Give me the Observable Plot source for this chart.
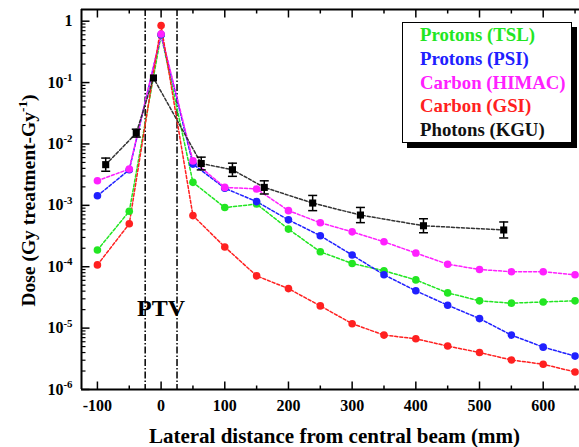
<!DOCTYPE html>
<html><head><meta charset="utf-8">
<script src="https://cdn.jsdelivr.net/npm/d3@7"></script>
<script src="https://cdn.jsdelivr.net/npm/@observablehq/plot@0.6"></script>
<style>
body{margin:0;background:#fff;}
#wrap{position:relative;width:579px;height:447px;overflow:hidden;font-family:"Liberation Serif","Times New Roman",serif;}
#legend{position:absolute;left:402px;top:22px;width:168px;height:119px;border:1.5px solid #000;box-shadow:5px 5px 0 #000;background:#fff;}
#legend div{position:absolute;left:17px;font-family:"Liberation Serif","Times New Roman",serif;font-weight:bold;font-size:18.8px;line-height:18px;white-space:nowrap;}
</style></head><body><div id="wrap"><div id="legend"></div></div>
<script>
// ---- data ----
const xPos = [-100,-50,0,50,100,150,200,250,300,350,400,450,500,550,600,650];
const protonsTSL  = [1.87e-4,8.0e-4,0.60,2.37e-3,9.2e-4,1.05e-3,4.1e-4,1.75e-4,1.13e-4,8.6e-5,6.1e-5,3.75e-5,2.78e-5,2.55e-5,2.67e-5,2.78e-5];
const protonsPSI  = [1.43e-3,3.8e-3,0.60,4.7e-3,1.9e-3,1.15e-3,5.8e-4,3.2e-4,1.55e-4,7.4e-5,4.05e-5,2.36e-5,1.43e-5,7.7e-6,4.9e-6,3.5e-6];
const carbonHIMAC = [2.52e-3,3.9e-3,0.62,5.3e-3,1.96e-3,1.85e-3,8.2e-4,5.2e-4,3.7e-4,2.55e-4,1.67e-4,1.1e-4,9.0e-5,8.3e-5,8.3e-5,7.4e-5];
const carbonGSI   = [1.07e-4,5.0e-4,0.85,6.8e-4,2.1e-4,7.1e-5,4.4e-5,2.3e-5,1.18e-5,7.7e-6,6.7e-6,5.1e-6,4.0e-6,3.03e-6,2.58e-6,1.93e-6];
const photonX    = [-87,-39,-12,63,112,162,238,313,412,538];
const photonDose = [4.6e-3,1.5e-2,0.119,4.8e-3,3.8e-3,1.96e-3,1.09e-3,6.95e-4,4.65e-4,3.97e-4];
const photonErr  = [1.28,1.16,null,1.27,1.28,1.28,1.33,1.33,1.30,1.35]; // multiplicative error factor
const seriesNames  = ["Protons (TSL)","Protons (PSI)","Carbon (HIMAC)","Carbon (GSI)","Photons (KGU)"];
const seriesColors = ["#22e622","#2020ff","#ff20ff","#ff2020","#111111"];
const yTickValues = [1,1e-1,1e-2,1e-3,1e-4,1e-5,1e-6];
const yTickLabels = ["1","10^{-1}","10^{-2}","10^{-3}","10^{-4}","10^{-5}","10^{-6}"];
const xTickValues = [-100,0,100,200,300,400,500,600];
const xMinorTicks = [-50,50,150,250,350,450,550,650];
const ptvBounds = [-25,25];
const xDomain = [-125,657];
const yDomain = [1e-6,1.55];
const xLabel = "Lateral distance from central beam (mm)";
const yLabel = "Dose (Gy treatment-Gy^{-1})";

// ---- build tables ----
const particleSeries = [protonsTSL, protonsPSI, carbonHIMAC, carbonGSI];
const data = [];
particleSeries.forEach((arr,i)=>arr.forEach((v,j)=>data.push({name:seriesNames[i], x:xPos[j], y:v})));
const photons = photonX.map((x,i)=>({x, y:photonDose[i], err:photonErr[i]}));
const photonErrs = photons.filter(d=>d.err);
const yMinor = [];
for (let e=-6;e<0;e++) for (let k=2;k<=9;k++) yMinor.push(k*Math.pow(10,e));

const seg = (dx,dy,ox=0,oy=0)=>({draw(ctx){ctx.moveTo(ox,oy);ctx.lineTo(ox+dx,oy+dy);}});
const cap = seg(9,0,-4.5,0);

const chart = Plot.plot({
  width:579, height:447, marginLeft:81, marginRight:0, marginTop:9, marginBottom:58,
  style:{fontFamily:"'Liberation Serif','Times New Roman',serif", fontWeight:"bold", fontSize:"16px", background:"transparent", color:"#000"},
  x:{domain:xDomain, axis:null},
  y:{type:"log", domain:yDomain, axis:null},
  color:{domain:seriesNames, range:seriesColors},
  marks:[
    Plot.ruleX(ptvBounds,{stroke:"#000", strokeWidth:1.5, strokeDasharray:"7,2,1.5,2"}),
    Plot.line(data,{x:"x", y:"y", z:"name", stroke:"name", strokeWidth:1.5, strokeDasharray:"3,2"}),
    Plot.line(photons,{x:"x", y:"y", stroke:"#333", strokeWidth:1.5, strokeDasharray:"3,2"}),
    Plot.dot(data,{x:"x", y:"y", fill:"name", r:3.8}),
    Plot.ruleX(photonErrs,{x:"x", y1:d=>d.y/d.err, y2:d=>d.y*d.err, stroke:"#000", strokeWidth:1.5}),
    Plot.dot(photonErrs,{x:"x", y:d=>d.y/d.err, symbol:cap, stroke:"#000", strokeWidth:1.5, r:1}),
    Plot.dot(photonErrs,{x:"x", y:d=>d.y*d.err, symbol:cap, stroke:"#000", strokeWidth:1.5, r:1}),
    Plot.dot(photons,{x:"x", y:"y", symbol:"square", fill:"#000", r:4}),
    // frame
    Plot.ruleX([xDomain[0]],{stroke:"#000", strokeWidth:2}),
    Plot.ruleY(yDomain,{stroke:"#000", strokeWidth:2}),
    // inward ticks
    Plot.dot(yTickValues,{x:()=>xDomain[0], y:d=>d, symbol:seg(8,0), stroke:"#000", strokeWidth:1.5, r:1}),
    Plot.dot(yMinor,{x:()=>xDomain[0], y:d=>d, symbol:seg(4,0), stroke:"#000", strokeWidth:1.2, r:1}),
    Plot.dot(xTickValues,{x:d=>d, y:()=>yDomain[0], symbol:seg(0,-8), stroke:"#000", strokeWidth:1.5, r:1}),
    Plot.dot(xMinorTicks,{x:d=>d, y:()=>yDomain[0], symbol:seg(0,-4), stroke:"#000", strokeWidth:1.5, r:1}),
    Plot.dot(xTickValues,{x:d=>d, y:()=>yDomain[1], symbol:seg(0,8), stroke:"#000", strokeWidth:1.5, r:1}),
    Plot.dot(xMinorTicks,{x:d=>d, y:()=>yDomain[1], symbol:seg(0,4), stroke:"#000", strokeWidth:1.5, r:1}),
    // tick labels
    Plot.axisY({ticks:yTickValues, tickFormat:d=>yTickLabels[yTickValues.indexOf(d)], tickSize:0, tickPadding:9, fontSize:16, label:null}),
    Plot.axisX({ticks:xTickValues, tickFormat:d=>String(d), tickSize:0, tickPadding:10, fontSize:16, label:null}),
    // labels
    Plot.text([xLabel],{text:d=>d, frameAnchor:"bottom", textAnchor:"middle", dy:53, dx:4, lineAnchor:"bottom", fontSize:21, fontWeight:"bold", fill:"#000"}),
    Plot.text([yLabel],{text:d=>d, frameAnchor:"left", textAnchor:"middle", dx:-53, dy:1, rotate:-90, lineAnchor:"middle", fontSize:19.5, fontWeight:"bold", fill:"#000"}),
    Plot.text(["PTV"],{text:d=>d, x:()=>d3.mean(ptvBounds), frameAnchor:"bottom", textAnchor:"middle", dy:-81, lineAnchor:"middle", fontSize:24, fontWeight:"bold", fill:"#000"})
  ]
});
const wrap = document.getElementById("wrap");
chart.style.position="absolute"; chart.style.left="0"; chart.style.top="0";
wrap.insertBefore(chart, wrap.firstChild);

// superscripts as tspans
d3.select(chart).selectAll("text").each(function(){
  const t = this.textContent;
  const m = t.match(/^(.*)\^\{([^}]*)\}(.*)$/);
  if (!m) return;
  const fs = parseFloat(getComputedStyle(this).fontSize) || 16;
  const el = d3.select(this); el.text(null);
  el.append("tspan").text(m[1]);
  el.append("tspan").attr("dy", -0.42*fs).attr("font-size", 0.68*fs).text(m[2]);
  if (m[3]) el.append("tspan").attr("dy", 0.42*fs).text(m[3]);
});

// legend
const legend = d3.select("#legend");
const legendTops = [3,27,51,74,98];
seriesNames.forEach((n,i)=>legend.append("div").style("top", legendTops[i]+"px").style("color", seriesColors[i]).text(n));
</script></body></html>
